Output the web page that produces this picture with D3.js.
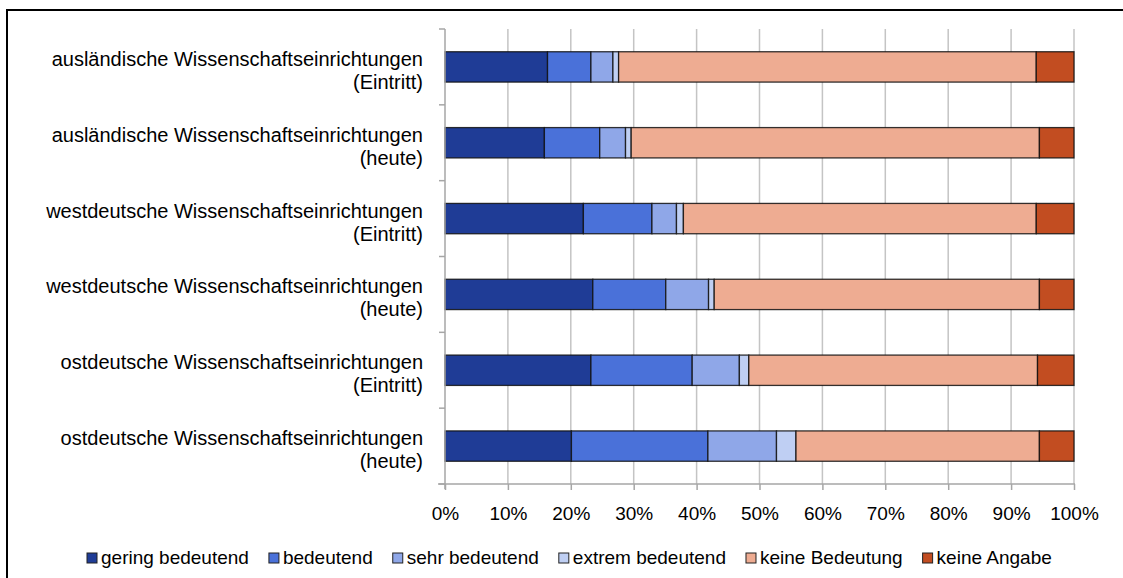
<!DOCTYPE html>
<html lang="de">
<head>
<meta charset="UTF-8">
<title>Bedeutung von Wissenschaftseinrichtungen</title>
<script src="https://cdn.jsdelivr.net/npm/d3@7"></script>
<style>
  html, body { margin: 0; padding: 0; background: #fff; }
  svg { display: block; font-family: "Liberation Sans", Arial, sans-serif; }
</style>
</head>
<body>
<svg id="chart" width="1123" height="578"></svg>
<script>
// categories (top to bottom), two label lines each
var categories = [
  ["ausländische Wissenschaftseinrichtungen", "(Eintritt)"],
  ["ausländische Wissenschaftseinrichtungen", "(heute)"],
  ["westdeutsche Wissenschaftseinrichtungen", "(Eintritt)"],
  ["westdeutsche Wissenschaftseinrichtungen", "(heute)"],
  ["ostdeutsche Wissenschaftseinrichtungen", "(Eintritt)"],
  ["ostdeutsche Wissenschaftseinrichtungen", "(heute)"]
];

var seriesNames = ["gering bedeutend", "bedeutend", "sehr bedeutend", "extrem bedeutend", "keine Bedeutung", "keine Angabe"];
var seriesColors = ["#1f3c96", "#4a71d9", "#8fa7e8", "#bfcff3", "#eeac92", "#c24d21"];

// shares in percent, one array per series, same order as categories
var gering    = [16.3, 15.8, 22.0, 23.5, 23.2, 20.1];
var bedeutend = [6.9, 8.8, 10.9, 11.6, 16.1, 21.7];
var sehr      = [3.5, 4.1, 3.9, 6.8, 7.5, 10.9];
var extrem    = [0.9, 0.9, 1.1, 0.9, 1.5, 3.1];
var keineBed  = [66.4, 64.9, 56.1, 51.7, 45.9, 38.7];
var keineAng  = [6.0, 5.5, 6.0, 5.5, 5.8, 5.5];

var xTicks = [0, 10, 20, 30, 40, 50, 60, 70, 80, 90, 100];

var seriesValues = [gering, bedeutend, sehr, extrem, keineBed, keineAng];

var svg = d3.select("#chart");
var W = 1123, H = 578;
var plot = {left: 445, right: 1074, top: 29, bottom: 484};

// outer frame (only left and top visible in picture)
svg.append("path")
  .attr("d", "M7," + H + "V10H" + W)
  .attr("fill", "none")
  .attr("stroke", "#000")
  .attr("stroke-width", 2);

var rows = categories.map(function(c, i) {
  var obj = {key: i};
  seriesNames.forEach(function(s, j) { obj[s] = seriesValues[j][i]; });
  return obj;
});

var x = d3.scaleLinear().domain([0, 100]).range([plot.left, plot.right]);
var y = d3.scaleBand().domain(d3.range(categories.length))
  .range([plot.top, plot.bottom]).paddingInner(0.6).paddingOuter(0.3);

// vertical grid lines
svg.append("g").selectAll("line")
  .data(xTicks.slice(1))
  .enter().append("line")
  .attr("x1", function(d) { return x(d); })
  .attr("x2", function(d) { return x(d); })
  .attr("y1", plot.top)
  .attr("y2", plot.bottom)
  .attr("stroke", "#c4c4c4")
  .attr("stroke-width", 1.5);

// stacked bars
var stack = d3.stack().keys(seriesNames)(rows);
svg.append("g").selectAll("g")
  .data(stack)
  .enter().append("g")
  .attr("fill", function(d, i) { return seriesColors[i]; })
  .selectAll("rect")
  .data(function(d) { return d; })
  .enter().append("rect")
  .attr("x", function(d) { return x(d[0]); })
  .attr("width", function(d) { return x(d[1]) - x(d[0]); })
  .attr("y", function(d) { return y(d.data.key); })
  .attr("height", y.bandwidth())
  .attr("stroke", "#111")
  .attr("stroke-opacity", 0.85)
  .attr("stroke-width", 1.3);

// y axis (line + ticks at band boundaries)
var yEdges = d3.range(categories.length + 1).map(function(i) {
  return plot.top + i * (plot.bottom - plot.top) / categories.length;
});
var gy = svg.append("g");
gy.append("line")
  .attr("x1", plot.left).attr("x2", plot.left)
  .attr("y1", plot.top).attr("y2", plot.bottom + 5)
  .attr("stroke", "#a6a6a6").attr("stroke-width", 1.5);
gy.selectAll("line.tick").data(yEdges).enter().append("line")
  .attr("class", "tick")
  .attr("x1", plot.left - 6).attr("x2", plot.left)
  .attr("y1", function(d) { return d; }).attr("y2", function(d) { return d; })
  .attr("stroke", "#a6a6a6").attr("stroke-width", 1.5);

// category labels
var labels = svg.append("g")
  .attr("font-size", 20)
  .attr("fill", "#000")
  .attr("text-anchor", "end");
labels.selectAll("text")
  .data(categories)
  .enter().append("text")
  .attr("x", 423)
  .attr("y", function(d, i) { return y(i) + y.bandwidth() / 2; })
  .each(function(d) {
    var t = d3.select(this);
    var cy = +t.attr("y");
    t.append("tspan").attr("x", 423).attr("y", cy - 1).text(d[0]);
    t.append("tspan").attr("x", 423).attr("y", cy + 22).text(d[1]);
  });

// x axis
var xAxis = d3.axisBottom(x)
  .tickValues(xTicks)
  .tickSize(6)
  .tickPadding(17)
  .tickFormat(function(d) { return d + "%"; });
var gx = svg.append("g")
  .attr("transform", "translate(0," + plot.bottom + ")")
  .call(xAxis);
gx.select(".domain").remove();
gx.append("line")
  .attr("x1", plot.left - 7).attr("x2", plot.right + 1)
  .attr("stroke", "#a6a6a6").attr("stroke-width", 1.5);
gx.selectAll(".tick line").attr("stroke", "#a6a6a6").attr("stroke-width", 1.5);
gx.selectAll(".tick text")
  .attr("font-size", 19)
  .attr("font-family", "Liberation Sans, Arial, sans-serif")
  .attr("fill", "#000");

// legend
var legend = svg.append("g").attr("font-size", 19);
var items = legend.selectAll("g")
  .data(seriesNames)
  .enter().append("g");
items.append("rect")
  .attr("width", 10).attr("height", 10)
  .attr("y", -11)
  .attr("fill", function(d, i) { return seriesColors[i]; })
  .attr("stroke", "#222").attr("stroke-width", 1);
items.append("text")
  .attr("x", 14)
  .attr("fill", "#000")
  .text(function(d) { return d; });

var gap = 20;
var pos = 0;
var offsets = [];
items.each(function() {
  offsets.push(pos);
  pos += 14 + this.querySelector("text").getComputedTextLength() + gap;
});
var startX = 87;
items.attr("transform", function(d, i) { return "translate(" + (startX + offsets[i]) + ",564)"; });
</script>
</body>
</html>
